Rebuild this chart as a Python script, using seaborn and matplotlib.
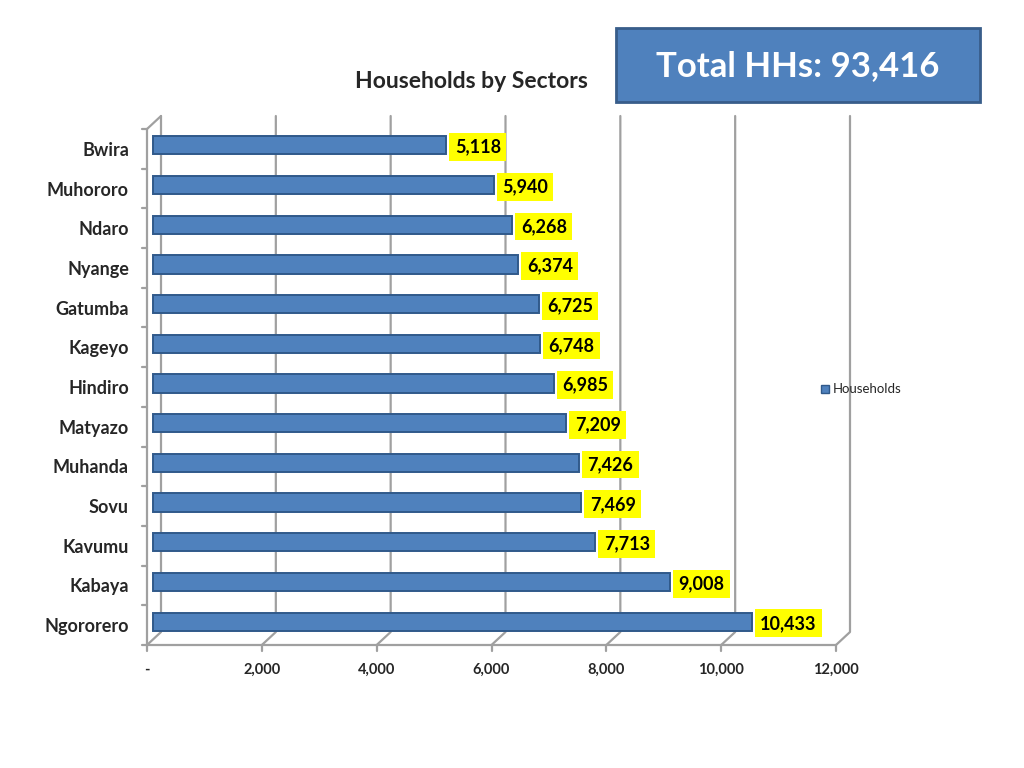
import matplotlib
matplotlib.use("Agg")
import matplotlib.pyplot as plt
import matplotlib.transforms as mtransforms
import seaborn as sns
import pandas as pd
from matplotlib.patches import Patch, FancyBboxPatch

sectors = ["Bwira", "Muhororo", "Ndaro", "Nyange", "Gatumba", "Kageyo", "Hindiro",
           "Matyazo", "Muhanda", "Sovu", "Kavumu", "Kabaya", "Ngororero"]
households = [5118, 5940, 6268, 6374, 6725, 6748, 6985, 7209, 7426, 7469, 7713, 9008, 10433]
x_ticks = [0, 2000, 4000, 6000, 8000, 10000, 12000]
x_tick_labels = ["-", "2,000", "4,000", "6,000", "8,000", "10,000", "12,000"]
title = "Households by Sectors"
total_text = "Total HHs: 93,416"
series_name = "Households"

df = pd.DataFrame({"Sector": sectors, series_name: households})

sns.set_style("white")
plt.rcParams['font.family'] = ['Lato', 'DejaVu Sans']

W, H = 1024, 768
fig = plt.figure(figsize=(W / 100, H / 100), dpi=100)
# front plane of the pseudo-3D plot area (pixels)
fx0, fx1, fy_top, fy_bot = 147, 836, 129, 645
ax = fig.add_axes([fx0 / W, 1 - fy_bot / H, (fx1 - fx0) / W, (fy_bot - fy_top) / H])

bar_color = "#4F81BD"
edge_color = "#30598A"
grid_color = "#A0A0A0"
sns.barplot(data=df, x=series_name, y="Sector", orient="h", color=bar_color,
            edgecolor=edge_color, linewidth=1.4, width=0.46, saturation=1, ax=ax,
            zorder=3)

# place bars at mid-depth of the 3D box
depth_dx, depth_dy = 14, 13  # pixels
bar_shift = mtransforms.ScaledTranslation(5.5 / 100, 3.5 / 100, fig.dpi_scale_trans)
for p in ax.patches:
    p.set_transform(ax.transData + bar_shift)
    p.set_clip_on(False)

ax.set_xlim(0, 12000)
ax.set_ylim(len(sectors) - 0.5, -0.5)
ax.set_xticks(x_ticks)
ax.set_xticklabels(x_tick_labels, fontsize=10.5, fontweight="bold")
ax.tick_params(axis="x", pad=13, length=0)
ax.tick_params(axis="y", pad=13, length=0)
for lbl in ax.get_yticklabels():
    lbl.set_fontsize(13)
    lbl.set_fontweight("bold")
ax.set_xlabel("")
ax.set_ylabel("")
ax.grid(False)
for s in ax.spines.values():
    s.set_visible(False)

# 3D box outline: back wall gridlines, floor, left wall
ddx = depth_dx / (fx1 - fx0)
ddy = depth_dy / (fy_bot - fy_top)
kw = dict(transform=ax.transAxes, color=grid_color, linewidth=1.6, clip_on=False, zorder=1)
for xt in x_ticks:
    fx = xt / 12000
    if xt > 0:
        ax.plot([fx + ddx, fx + ddx, fx], [1 + ddy, ddy, 0], **kw)
    ax.plot([fx, fx], [0, -6 / (fy_bot - fy_top)], **kw)
ax.plot([ddx, ddx, 0], [1 + ddy, ddy, 0], **kw)      # back-left edge
ax.plot([0, 0], [0, 1], **kw)                        # front-left edge
ax.plot([0, ddx], [1, 1 + ddy], **kw)                # top-left diagonal
ax.plot([0, 1], [0, 0], **kw)                        # front floor edge
for i in range(len(sectors) + 1):
    ax.plot([-5 / (fx1 - fx0), 0], [1 - i / len(sectors)] * 2, **kw)

for i, v in enumerate(households):
    ax.annotate(f"{v:,}", xy=(v, i), xytext=(10, 1.3), textcoords="offset points",
                ha="left", va="center", fontsize=13, fontweight="bold", color="black",
                bbox=dict(boxstyle="square,pad=0.3", facecolor="#FFFF00", edgecolor="none"),
                zorder=5, annotation_clip=False)

fig.text(471 / W, 1 - 81 / H, title, ha="center", va="center", fontsize=16.5,
         fontweight="bold")

box = FancyBboxPatch((616 / W, 1 - 102 / H), 364 / W, 74 / H, boxstyle="square,pad=0",
                     transform=fig.transFigure, facecolor=bar_color, edgecolor="#385D8A",
                     linewidth=2)
fig.patches.append(box)
fig.text(798 / W, 1 - 66 / H, total_text, ha="center", va="center", fontsize=25,
         fontweight="bold", color="white")

handles = [Patch(facecolor=bar_color, edgecolor=edge_color, label=series_name)]
fig.legend(handles=handles, loc="center left", bbox_to_anchor=(0.790, 0.493),
           frameon=False, fontsize=9.5, handlelength=0.6, handleheight=0.6,
           handletextpad=0.3)

fig.savefig("out.png", dpi=100, facecolor="white")
